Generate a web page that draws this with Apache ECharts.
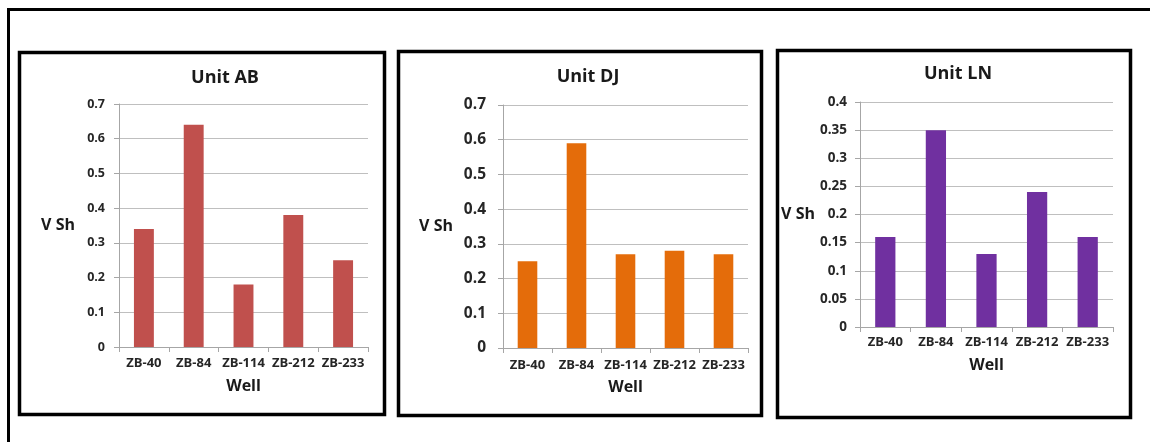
<!DOCTYPE html>
<html>
<head>
<meta charset="utf-8">
<script src="https://cdn.jsdelivr.net/npm/echarts@6/dist/echarts.min.js"></script>
<style>
html,body{margin:0;padding:0;background:#fff;}
#c{width:1150px;height:442px;}
</style>
</head>
<body>
<div id="c"></div>
<script>
const wells = ['ZB-40', 'ZB-84', 'ZB-114', 'ZB-212', 'ZB-233'];
const titles = ['Unit AB', 'Unit DJ', 'Unit LN'];
const vshAB = [0.34, 0.64, 0.18, 0.38, 0.25];
const vshDJ = [0.25, 0.59, 0.27, 0.28, 0.27];
const vshLN = [0.16, 0.35, 0.13, 0.24, 0.16];
const yMax = [0.7, 0.7, 0.4];
const yStep = [0.1, 0.1, 0.05];
const colors = ['#C0504D', '#E46C0A', '#7030A0'];
const seriesData = [vshAB, vshDJ, vshLN];

const FONT = 'Open Sans';
const grids = [
  {left: 119, right: 782, top: 104, bottom: 95},
  {left: 503, right: 402, top: 105, bottom: 94},
  {left: 860, right: 37, top: 102, bottom: 115}
];
const panelRects = [
  {x: 19.5, y: 52.5, width: 365, height: 362},
  {x: 398.5, y: 51.5, width: 363, height: 364},
  {x: 777.5, y: 50.5, width: 353, height: 367}
];
const titlePos = [{x: 220, y: 64}, {x: 583, y: 63}, {x: 953, y: 60}];
const tickFont = [12.5, 15.5, 13.5];
const tickMargin = [14, 17, 13];
const catMargin = [10, 11, 9];
const nameGapX = [31, 31, 30];
const nameGapY = [44, 50, 45];

const option = {
  backgroundColor: '#fff',
  animation: false,
  title: titles.map((t, i) => ({
    text: t, left: titlePos[i].x, top: titlePos[i].y, textAlign: 'center',
    textStyle: {fontFamily: FONT, fontWeight: 'bold', fontSize: 18, color: '#1a1a1a'}
  })),
  grid: grids,
  xAxis: grids.map((g, i) => ({
    type: 'category', gridIndex: i, data: wells,
    name: 'Well', nameLocation: 'middle', nameGap: nameGapX[i],
    nameTextStyle: {fontFamily: FONT, fontWeight: 'bold', fontSize: 16, color: '#1a1a1a'},
    axisLine: {show: true, lineStyle: {color: '#A6A6A6', width: 1}},
    axisTick: {show: true, length: 5, lineStyle: {color: '#A6A6A6'}},
    axisLabel: {fontFamily: FONT, fontWeight: 'bold', fontSize: 13, color: '#262626', margin: catMargin[i], interval: 0}
  })),
  yAxis: grids.map((g, i) => ({
    type: 'value', gridIndex: i, min: 0, max: yMax[i], interval: yStep[i],
    name: 'V Sh', nameLocation: 'middle', nameRotate: 0, nameGap: nameGapY[i],
    nameTextStyle: {fontFamily: FONT, fontWeight: 'bold', fontSize: 16, color: '#1a1a1a'},
    axisLine: {show: true, lineStyle: {color: '#A6A6A6', width: 1}},
    axisTick: {show: true, length: 5, lineStyle: {color: '#A6A6A6'}},
    splitLine: {show: true, lineStyle: {color: '#BFBFBF', width: 1}},
    axisLabel: {
      fontFamily: FONT, fontWeight: 'bold', fontSize: tickFont[i], color: '#262626', margin: tickMargin[i],
      formatter: v => {
        const r = Math.round(v * 100) / 100;
        return r === 0 ? '0' : String(r);
      }
    }
  })),
  series: seriesData.map((d, i) => ({
    type: 'bar', xAxisIndex: i, yAxisIndex: i, data: d,
    barWidth: '40%',
    itemStyle: {color: colors[i]}
  })),
  graphic: [
    {type: 'line', shape: {x1: 8, y1: 9.5, x2: 1150, y2: 9.5}, style: {stroke: '#000', lineWidth: 3}, silent: true},
    {type: 'line', shape: {x1: 8.5, y1: 8, x2: 8.5, y2: 442}, style: {stroke: '#000', lineWidth: 3}, silent: true}
  ].concat(panelRects.map(r => ({
    type: 'rect', shape: r, style: {fill: 'none', stroke: '#000', lineWidth: 3.5}, silent: true, z: -1
  })))
};

const chart = echarts.init(document.getElementById('c'), null, {renderer: 'canvas'});
chart.setOption(option);
</script>
</body>
</html>
